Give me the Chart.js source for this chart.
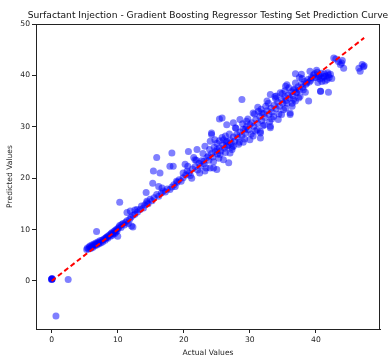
<!DOCTYPE html>
<html>
<head>
<meta charset="utf-8">
<script src="https://cdn.jsdelivr.net/npm/chart.js@4"></script>
<style>
  html, body { margin: 0; padding: 0; background: #fff; }
  #wrap { width: 389px; height: 358px; }
</style>
</head>
<body>
<div id="wrap"><canvas id="c" width="389" height="358"></canvas></div>
<script>
const chartTitle = 'Surfactant Injection - Gradient Boosting Regressor Testing Set Prediction Curve';
const xLabel = 'Actual Values';
const yLabel = 'Predicted Values';
const xTicks = [0, 10, 20, 30, 40];
const yTicks = [0, 10, 20, 30, 40, 50];

const actualValues = [
  0, 0, 0.05, 0, 0.1, 2.5, 0.65,
  5.3,5.4,5.6,5.7,5.8,5.9,6.0,6.1,6.2,6.3,6.4,6.5,6.6,6.7,6.8,6.9,7.0,7.1,7.2,7.3,7.4,7.6,7.7,7.8,8.0,8.1,
  8.2,8.4,8.5,8.6,8.8,8.9,9.0,9.1,9.2,9.3,9.4,9.5,9.6,9.7,9.8,9.9,10.0,10.0,10.2,10.3,10.5,10.6,10.8,11.0,11.2,11.4,11.6,11.8,12.1,12.3,6.8,8.3,
  12.0,12.3,12.6,11.4,11.9,12.6,13.0,13.4,13.6,13.9,14.1,14.4,14.6,14.9,15.2,15.5,15.9,16.2,16.6,16.9,17.2,17.5,17.9,18.2,18.5,18.7,19.0,19.3,19.6,19.9,
  10.3,14.3,14.4,15.3,16.2,16.7,15.4,15.9,16.4,18.2,17.9,18.4,18.9,12.9,
  19.9,20.5,20.2,20.7,21.5,22.0,22.5,23.0,23.2,23.7,24.0,24.2,24.7,25.0,25.5,26.0,26.3,26.5,26.8,
  20.3,20.8,21.0,21.3,21.7,22.1,22.3,22.7,23.1,23.5,23.8,24.2,24.4,24.8,25.1,25.4,25.6,25.9,26.2,26.4,26.7,27.0,27.2,27.5,27.7,28.0,28.2,28.5,28.8,29.0,29.3,29.5,29.8,30.0,
  28.8,25.8,26.5,27.5,28.5,29.5,29.3,30.5,30.0,27.5,27.0,26.0,25.4,24.6,27.8,28.3,29.0,
  30.5,31.8,31.6,31.6,33.1,33.8,32.6,33.1,33.6,34.3,35.1,35.6,36.1,35.6,36.6,36.9,34.6,
  30.3,30.6,30.9,31.2,31.5,31.8,32.1,32.3,32.6,32.9,33.2,33.4,33.7,34.0,34.2,34.5,34.8,35.0,35.3,35.5,35.8,36.0,36.3,36.5,36.8,37.0,37.3,37.5,37.8,38.0,38.3,38.5,38.8,39.0,39.3,
  30.8,31.2,32.0,32.4,33.0,34.0,34.8,35.3,36.4,37.1,36.6,36.1,37.5,37.8,38.1,38.6,38.9,36.9,39.1,39.6,40.4,41.2,41.9,41.7,40.9,40.7,41.9,
  39.5,39.8,40.0,40.2,40.5,40.8,41.0,41.3,41.5,41.8,42.0,42.2,40.1,39.2,40.6,41.4,42.4,40.3,
  42.7,43.4,43.9,44.2,43.7,43.0,44.0,46.5,47.0,47.2,46.7,47.3,
  20.6,21.2,21.9,22.4,22.9,23.4,23.9,24.5,25.0,25.3,25.8,26.3,26.9,27.3,27.9,28.4,28.9,29.2,29.7,30.2,30.7,31.1,31.7,32.2,32.8,33.3,33.9,34.4,34.9,35.4,35.9,36.4,36.9,37.4,37.9,38.4,
  21.7,23.2,24.5,25.0,24.2,24.0,25.4,26.5,27.3,31.6,33.1,31.3,35.4,37.6,40.7
];

const predictedValues = [
  0.4, 0.3, 0.5, 0.35, 0.4, 0.3, -6.8,
  6.1,6.4,6.2,6.6,6.8,6.3,6.6,7.0,6.5,6.9,7.2,6.8,7.1,7.4,7.0,7.3,7.6,7.2,7.5,7.8,7.4,7.9,7.6,8.0,8.2,7.9,
  8.4,8.6,8.3,8.8,9.0,8.7,9.2,9.4,8.9,9.3,9.6,9.2,9.8,9.5,10.0,9.7,8.7,10.2,10.5,10.8,10.4,11.0,11.2,10.9,11.4,11.7,11.2,12.0,10.7,10.5,9.6,8.4,
  12.4,12.8,13.0,13.3,13.6,13.8,13.4,13.9,14.6,14.2,14.8,15.2,15.0,15.9,15.6,16.2,16.8,16.5,17.1,17.5,17.3,17.9,17.8,18.3,18.7,18.4,19.2,19.7,19.4,20.1,
  15.3,17.2,15.5,19.0,18.4,18.1,21.4,24.0,21.0,24.9,22.3,22.3,19.4,13.9,
  21.0,21.4,22.7,25.2,24.0,25.6,22.3,23.3,26.2,24.3,22.0,28.5,27.5,25.6,24.6,23.6,28.2,26.2,23.0,
  20.6,21.0,20.5,21.8,22.2,21.6,22.9,23.4,22.8,24.0,23.5,24.8,24.1,25.2,24.7,25.9,25.3,26.5,25.8,27.0,26.4,27.4,26.8,28.0,27.2,28.5,27.9,29.0,28.3,29.5,28.8,30.0,29.4,30.4,
  35.3,31.7,30.4,30.8,31.4,31.1,29.5,28.2,27.5,26.2,24.9,27.5,27.3,26.0,29.8,26.6,27.0,
  32.7,32.7,28.8,27.8,36.3,35.9,35.0,29.8,32.0,31.4,33.3,34.6,32.7,38.2,37.2,35.0,36.6,
  30.8,30.1,31.4,30.7,32.0,31.2,32.6,31.8,33.1,32.4,33.6,32.9,34.2,33.5,34.8,34.0,35.3,34.6,35.8,35.1,36.2,35.6,36.8,36.1,37.3,36.7,37.8,37.2,38.3,37.7,38.8,38.3,39.2,38.7,39.6,
  29.2,33.8,30.2,34.0,31.0,36.0,32.4,37.0,34.0,36.6,35.3,32.4,39.6,40.2,37.2,38.5,35.0,40.3,40.8,40.1,39.8,39.8,40.1,39.2,38.8,36.9,36.7,
  39.5,40.3,39.6,40.6,40.0,40.4,39.5,40.3,39.9,40.5,39.6,40.2,41.0,39.0,39.3,38.9,39.4,38.6,
  43.4,42.7,42.4,41.4,42.1,43.2,42.9,41.4,42.1,41.7,40.8,41.9,
  22.3,20.0,23.5,21.0,24.8,22.0,25.6,23.2,26.8,23.9,27.9,25.0,28.6,26.0,29.7,27.0,30.6,27.6,31.5,28.6,32.5,29.4,33.4,30.4,34.6,31.5,35.5,32.5,36.5,33.6,37.6,34.6,38.5,35.6,39.4,36.7,
  23.6,21.4,22.0,21.7,28.8,27.2,31.5,27.2,25.6,29.1,30.1,33.0,37.9,35.9,36.9
];

const xMin = -2.37, xMax = 49.7;
const yMin = -9.35, yMax = 50;

const scatterData = actualValues.map((v, i) => ({ x: v, y: predictedValues[i] }));
const lo = Math.min(...actualValues), hi = Math.max(...actualValues);
const idealLine = [{ x: lo, y: lo }, { x: hi, y: hi }];

const FONT = 'DejaVu Sans';

const framePlugin = {
  id: 'frame',
  afterDraw(chart) {
    const { ctx, chartArea: a } = chart;
    ctx.save();
    ctx.strokeStyle = '#222';
    ctx.lineWidth = 1;
    ctx.strokeRect(Math.round(a.left) + 0.5, Math.round(a.top) + 0.5,
                   Math.round(a.right - a.left) - 1, Math.round(a.bottom - a.top));
    ctx.fillStyle = '#111';
    ctx.font = '9.15px "' + FONT + '"';
    ctx.textAlign = 'center';
    ctx.textBaseline = 'alphabetic';
    ctx.fillText(chartTitle, (a.left + a.right) / 2, 18);
    ctx.restore();
  }
};

new Chart(document.getElementById('c'), {
  data: {
    datasets: [
      {
        type: 'line',
        data: idealLine,
        borderColor: 'rgb(255,0,0)',
        borderWidth: 2,
        borderDash: [5, 3],
        pointRadius: 0,
        fill: false,
        order: 0
      },
      {
        type: 'scatter',
        data: scatterData,
        backgroundColor: 'rgba(0,0,255,0.5)',
        borderWidth: 0,
        pointRadius: 3.5,
        order: 1
      }
    ]
  },
  options: {
    responsive: false,
    animation: false,
    devicePixelRatio: 1,
    layout: { padding: { left: 0, right: 9, top: 24, bottom: 0 } },
    plugins: { legend: { display: false }, tooltip: { enabled: false }, title: { display: false } },
    scales: {
      x: {
        type: 'linear',
        min: xMin, max: xMax,
        afterBuildTicks: s => { s.ticks = xTicks.map(v => ({ value: v })); },
        afterFit: s => { s.height = 29; },
        grid: { drawOnChartArea: false, drawTicks: true, tickLength: 4, color: '#222' },
        border: { display: true, color: '#222' },
        ticks: { color: '#222', font: { family: FONT, size: 7.6 }, padding: 2, maxRotation: 0, autoSkip: false },
        title: { display: true, text: xLabel, color: '#222', font: { family: FONT, size: 7.6 }, padding: { top: 0, bottom: 0 } }
      },
      y: {
        type: 'linear',
        min: yMin, max: yMax,
        afterBuildTicks: s => { s.ticks = yTicks.map(v => ({ value: v })); },
        afterFit: s => { s.width = 36; },
        grid: { drawOnChartArea: false, drawTicks: true, tickLength: 4, color: '#222' },
        border: { display: true, color: '#222' },
        ticks: { color: '#222', font: { family: FONT, size: 7.6 }, padding: 2, autoSkip: false },
        title: { display: true, text: yLabel, color: '#222', font: { family: FONT, size: 7.6 }, padding: { top: 5, bottom: 0 } }
      }
    }
  },
  plugins: [framePlugin]
});
</script>
</body>
</html>
